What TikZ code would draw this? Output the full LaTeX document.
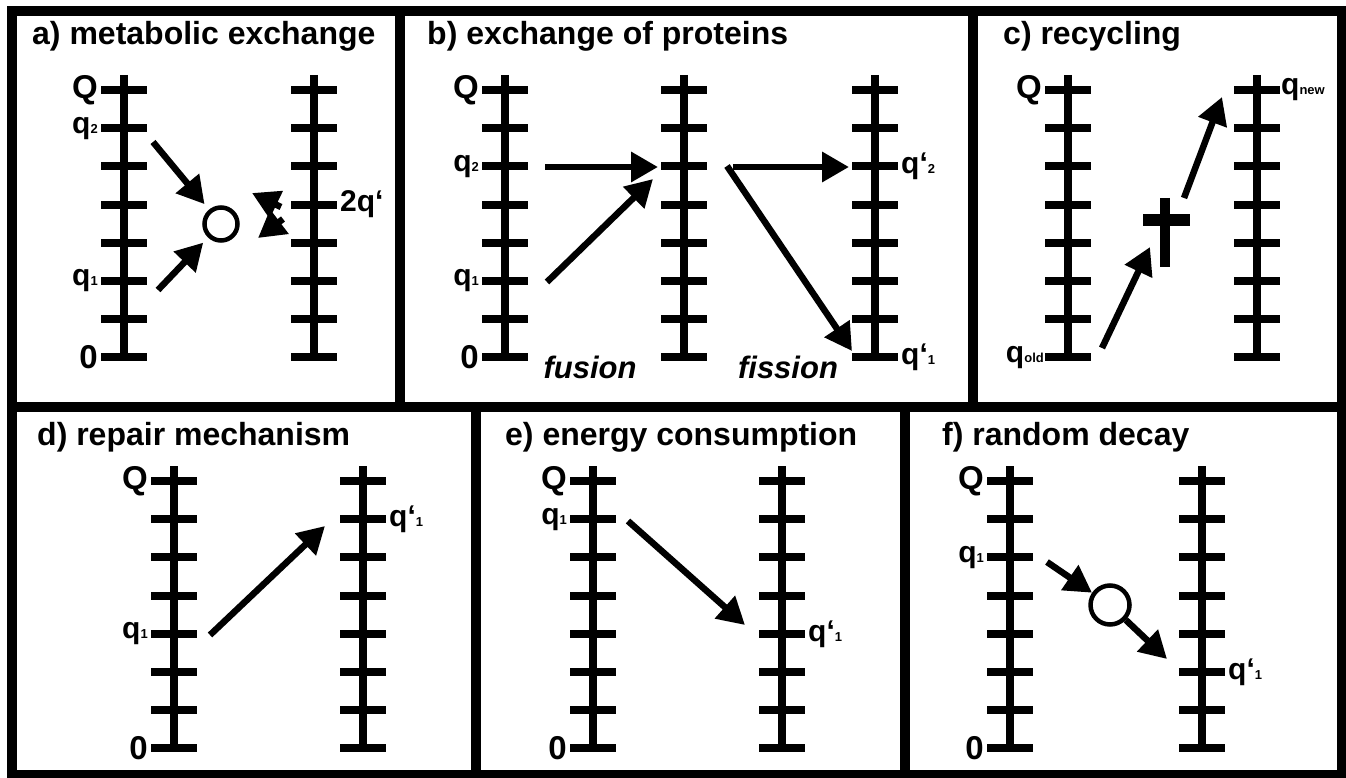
\documentclass[tikz,border=0pt]{standalone}
\usepackage{fontspec}
\setmainfont{Liberation Sans}
\usetikzlibrary{arrows.meta, positioning}

\newcommand\qidx[1]{{\fontsize{13}{13}\selectfont #1}}
% one scale: name, x of the rail, y of the top rung
\newcommand\ladder[3]{%
  \draw[rail] (#2,#3-15) -- (#2,#3+271.4);
  \foreach \k in {0,...,7}
    \draw[rung] (#2-23,#3+38.2*\k) coordinate (#1-\k-l) -- (#2+23,#3+38.2*\k) coordinate (#1-\k-r);
}

\begin{document}
\begin{tikzpicture}[
    x=1pt, y=-1pt,
    node distance=3pt,
    panelline/.style={line width=10pt},
    rail/.style={line width=8pt},
    rung/.style={line width=8pt},
    arr/.style={-{Triangle[length=27pt,width=29pt]}, line width=6.5pt},
    ptitle/.style={anchor=base west, inner sep=0pt, font=\fontsize{32}{32}\selectfont\bfseries},
    lbl/.style={inner sep=0pt, font=\fontsize{30}{30}\selectfont\bfseries},
    big/.style={lbl, font=\fontsize{33}{33}\selectfont\bfseries},
    ring/.style={circle, draw, line width=4.5pt, minimum size=33pt, inner sep=0pt},
  ]
  \useasboundingbox (0,0) rectangle (1346,778);

  % frame and panel borders
  \draw[panelline] (12,11) rectangle (1342,775);
  \draw[panelline] (7,407) -- (1346,407);
  \draw[panelline] (400,11) -- (400,407);
  \draw[panelline] (973,11) -- (973,407);
  \draw[panelline] (476,407) -- (476,775);
  \draw[panelline] (905,407) -- (905,775);

  % a) metabolic exchange
  \node[ptitle] (ta) at (32,45) {a) metabolic exchange};
  \ladder{a1}{124}{90}
  \ladder{a2}{314}{90}
  \node[big, left=of a1-0-l] (aQ) {Q};
  \node[lbl, left=of a1-1-l] (aq2) {q\qidx{2}};
  \node[lbl, left=of a1-5-l] (aq1) {q\qidx{1}};
  \node[big, left=of a1-7-l] (a0) {0};
  \node[lbl, right=of a2-3-r] (a2q) {2q‘};
  \node[ring] (aring) at (221,224) {};
  \coordinate (aq2s) at (153,142);
  \coordinate (aq1s) at (158,290);
  \coordinate (ax1s) at (281,207);
  \coordinate (ax1t) at (252,193);
  \coordinate (ax2s) at (283,219);
  \coordinate (ax2t) at (258,238);
  \draw[arr, shorten >=7pt] (aq2s) -- (aring);
  \draw[arr, shorten >=7pt] (aq1s) -- (aring);
  \draw[arr] (ax1s) -- (ax1t);
  \draw[arr] (ax2s) -- (ax2t);

  % b) exchange of proteins
  \node[ptitle] (tb) at (427,45) {b) exchange of proteins};
  \ladder{b1}{505}{90}
  \ladder{b2}{684}{90}
  \ladder{b3}{875}{90}
  \node[big, left=of b1-0-l] (bQ) {Q};
  \node[lbl, left=of b1-2-l] (bq2) {q\qidx{2}};
  \node[lbl, left=of b1-5-l] (bq1) {q\qidx{1}};
  \node[big, left=of b1-7-l] (b0) {0};
  \node[lbl, right=of b3-2-r] (bp2) {q‘\qidx{2}};
  \node[lbl, right=of b3-7-r] (bp1) {q‘\qidx{1}};
  \node[lbl, anchor=base, font=\fontsize{31}{31}\selectfont\bfseries\itshape] (fus) at (590,378) {fusion};
  \node[lbl, anchor=base, font=\fontsize{31}{31}\selectfont\bfseries\itshape] (fis) at (788,378) {fission};
  \coordinate (bq2s) at (545,167);
  \coordinate (bq2t) at (658,167);
  \coordinate (bq1s) at (547,282);
  \coordinate (bq1t) at (653,179);
  \coordinate (bf2s) at (733,167);
  \coordinate (bf2t) at (849,167);
  \coordinate (bf1s) at (727,166);
  \coordinate (bf1t) at (852,351);
  \draw[arr] (bq2s) -- (bq2t);
  \draw[arr] (bq1s) -- (bq1t);
  \draw[arr] (bf2s) -- (bf2t);
  \draw[arr] (bf1s) -- (bf1t);

  % c) recycling
  \node[ptitle] (tc) at (1003,45) {c) recycling};
  \ladder{c1}{1068}{90}
  \ladder{c2}{1257}{90}
  \node[big, left=of c1-0-l] (cQ) {Q};
  \node[lbl, left=1pt of c1-7-l] (cold) {q\qidx{old}};
  \node[lbl, right=1pt of c2-0-r] (cnew) {q\qidx{new}};
  \draw[line width=10pt] (1165,198) -- (1165,267);
  \draw[line width=11pt] (1143,220) -- (1190,220);
  \coordinate (cos) at (1102,348);
  \coordinate (cot) at (1150,247);
  \coordinate (cns) at (1184,198);
  \coordinate (cnt) at (1222,97);
  \draw[arr] (cos) -- (cot);
  \draw[arr] (cns) -- (cnt);

  % d) repair mechanism
  \node[ptitle] (td) at (37,445) {d) repair mechanism};
  \ladder{d1}{174}{481}
  \ladder{d2}{363}{481}
  \node[big, left=of d1-0-l] (dQ) {Q};
  \node[lbl, left=of d1-4-l] (dq1) {q\qidx{1}};
  \node[big, left=of d1-7-l] (d0) {0};
  \node[lbl, right=of d2-1-r] (dp1) {q‘\qidx{1}};
  \coordinate (ds) at (210,635);
  \coordinate (dt) at (325,526);
  \draw[arr] (ds) -- (dt);

  % e) energy consumption
  \node[ptitle] (te) at (505,445) {e) energy consumption};
  \ladder{e1}{593}{481}
  \ladder{e2}{782}{481}
  \node[big, left=of e1-0-l] (eQ) {Q};
  \node[lbl, left=of e1-1-l] (eq1) {q\qidx{1}};
  \node[big, left=of e1-7-l] (e0) {0};
  \node[lbl, right=of e2-4-r] (ep1) {q‘\qidx{1}};
  \coordinate (es) at (628,521);
  \coordinate (et) at (745,625);
  \draw[arr] (es) -- (et);

  % f) random decay
  \node[ptitle] (tf) at (942,445) {f) random decay};
  \ladder{f1}{1010}{481}
  \ladder{f2}{1202}{481}
  \node[big, left=of f1-0-l] (fQ) {Q};
  \node[lbl, left=of f1-2-l] (fq1) {q\qidx{1}};
  \node[big, left=of f1-7-l] (f0) {0};
  \node[lbl, right=of f2-5-r] (fp1) {q‘\qidx{1}};
  \node[ring, minimum size=39pt] (fring) at (1110,605) {};
  \coordinate (fs) at (1047,562);
  \coordinate (ft) at (1167,659);
  \draw[arr] (fs) -- (fring);
  \draw[arr] (fring) -- (ft);
\end{tikzpicture}
\end{document}
